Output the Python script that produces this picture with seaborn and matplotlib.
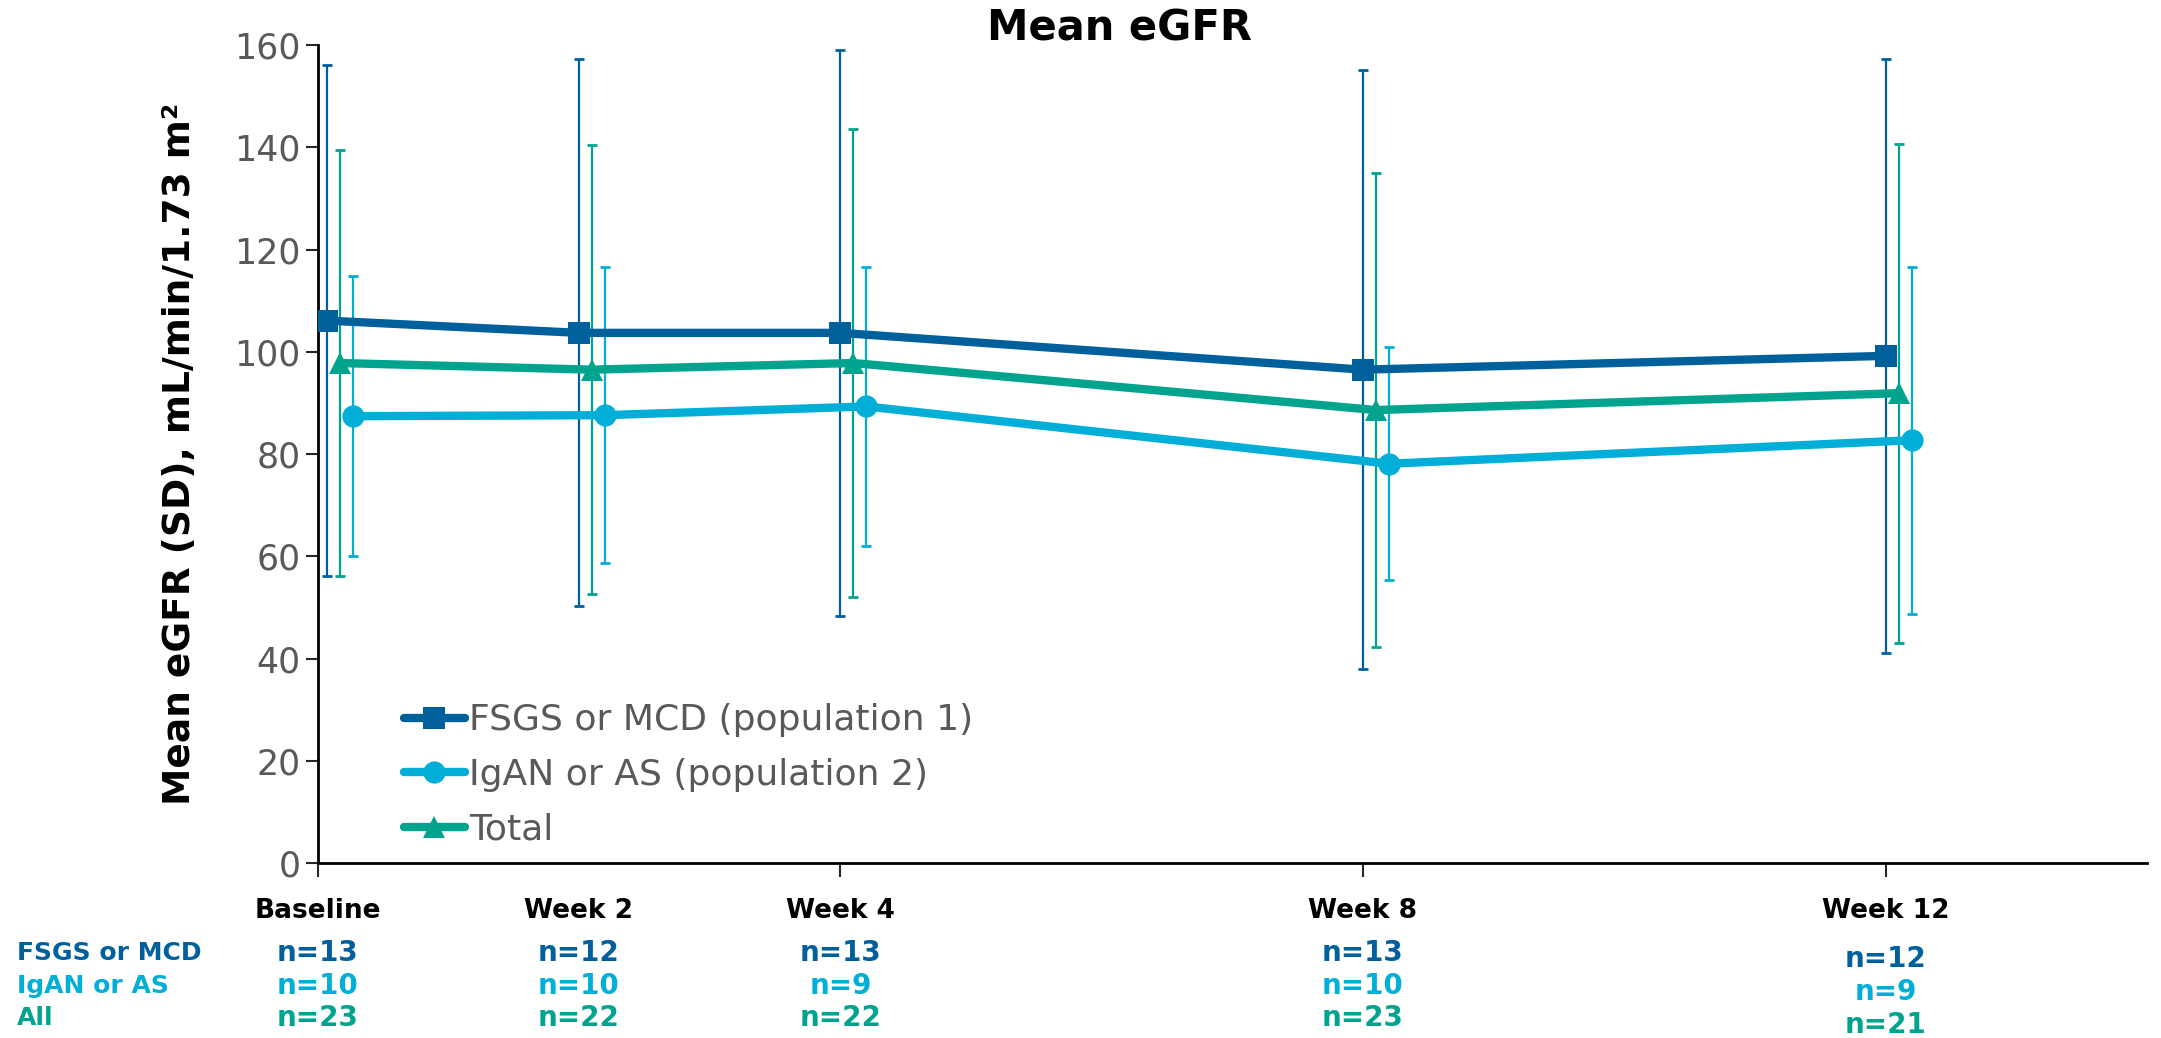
import pandas as pd
import matplotlib
matplotlib.use("Agg")
import matplotlib.pyplot as plt
import matplotlib.transforms as mtransforms
import seaborn as sns

# ---- data ----
visits = ["Baseline", "Week 2", "Week 4", "Week 8", "Week 12"]
weeks = [0.07, 2, 4, 8, 12]
groups = ["FSGS or MCD (population 1)", "IgAN or AS (population 2)", "Total"]

fsgs_mean = [106.1, 103.7, 103.7, 96.5, 99.2]
fsgs_sd = [50.0, 53.5, 55.4, 58.6, 58.1]
igan_mean = [87.4, 87.6, 89.3, 78.1, 82.7]
igan_sd = [27.4, 28.9, 27.2, 22.8, 33.9]
total_mean = [97.8, 96.5, 97.8, 88.6, 91.9]
total_sd = [41.7, 43.9, 45.7, 46.4, 48.8]

row_labels = ["FSGS or MCD", "IgAN or AS", "All"]
n_fsgs = [13, 12, 13, 13, 12]
n_igan = [10, 10, 9, 10, 9]
n_all = [23, 22, 22, 23, 21]

# ---- styling ----
c_fsgs = "#00609C"
c_igan = "#00AED8"
c_total = "#00A38D"
palette = {groups[0]: c_fsgs, groups[1]: c_igan, groups[2]: c_total}
markers = {groups[0]: "s", groups[1]: "o", groups[2]: "^"}
shift = {groups[0]: 0.0, groups[1]: 0.2, groups[2]: 0.1}

means = {groups[0]: fsgs_mean, groups[1]: igan_mean, groups[2]: total_mean}
sds = {groups[0]: fsgs_sd, groups[1]: igan_sd, groups[2]: total_sd}

rows = []
for g in groups:
    for w, m, s in zip(weeks, means[g], sds[g]):
        rows.append({"group": g, "week": w + shift[g], "mean": m, "sd": s})
df = pd.DataFrame(rows)

sns.set_style("ticks")
plt.rcParams["font.family"] = ["DejaVu Sans"]

fig = plt.figure(figsize=(21.61, 10.38), dpi=100)
ax = fig.add_axes([0.147, 0.1686, 0.8465, 0.788])

# error bars (thin, behind the lines)
for g in groups:
    sub = df[df["group"] == g]
    ax.errorbar(sub["week"], sub["mean"], yerr=sub["sd"], fmt="none",
                ecolor=palette[g], elinewidth=1.6, capsize=3.6, capthick=2,
                zorder=2)

sns.lineplot(data=df, x="week", y="mean", hue="group", style="group",
             hue_order=groups, style_order=groups, palette=palette,
             markers=markers, dashes=False, errorbar=None, sort=False,
             linewidth=6, markersize=16, markeredgewidth=0, ax=ax, zorder=3)

ax.set_xlim(0, 14)
ax.set_ylim(0, 160)
ax.set_yticks(range(0, 161, 20))
ax.set_xticks([0, 4, 8, 12])
ax.set_xticklabels([])
ax.tick_params(axis="y", labelsize=25, labelcolor="#595959", length=9,
               width=1.5, direction="out")
ax.tick_params(axis="x", length=10, width=1.5, direction="out")
for sp in ["left", "bottom"]:
    ax.spines[sp].set_linewidth(2)
    ax.spines[sp].set_color("black")
sns.despine(ax=ax)
ax.set_xlabel("")
ax.set_ylabel("Mean eGFR (SD), mL/min/1.73 m²", fontsize=27,
              fontweight="bold", color="black", labelpad=26)

leg = ax.legend(loc="upper left", bbox_to_anchor=(0.047, 0.195),
                frameon=False, fontsize=26, labelcolor="#595959",
                handlelength=1.7, handletextpad=0.1, labelspacing=0.57,
                borderpad=0, borderaxespad=0)
for h in leg.legend_handles:
    h.set_linewidth(6)
    h.set_markersize(16)

fig.text(0.518, 0.973, "Mean eGFR", ha="center", va="center",
         fontsize=30, fontweight="bold", color="black")

# visit labels and n-table below the axis
trans = mtransforms.blended_transform_factory(ax.transData, fig.transFigure)
for w, v in zip([0, 2, 4, 8, 12], visits):
    ax.text(w, 0.122, v, transform=trans, ha="center", va="center",
            fontsize=19, fontweight="bold", color="black")

row_colors = [c_fsgs, c_igan, c_total]
row_y = [0.082, 0.050, 0.019]
for lab, col, y in zip(row_labels, row_colors, row_y):
    fig.text(0.008, y, lab, ha="left", va="center", fontsize=18,
             fontweight="bold", color=col)
for counts, col, y in zip([n_fsgs, n_igan, n_all], row_colors, row_y):
    for w, n in zip([0, 2, 4, 8, 12], counts):
        yy = y - 0.006 if w == 12 else y
        ax.text(w, yy, f"n={n}", transform=trans, ha="center", va="center",
                fontsize=20, fontweight="bold", color=col)

fig.savefig("out.png", dpi=100)
